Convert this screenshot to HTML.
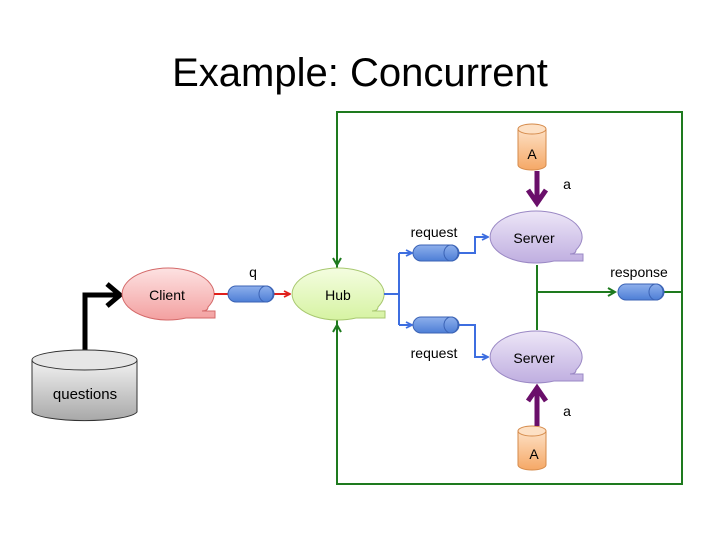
<!DOCTYPE html>
<html><head><meta charset="utf-8"><style>body{margin:0;background:#fff}svg{display:block}text{font-family:"Liberation Sans",sans-serif}</style></head><body>
<svg width="720" height="540" viewBox="0 0 720 540" xmlns="http://www.w3.org/2000/svg">
<defs>
<linearGradient id="gr" x1="0" y1="0" x2="0" y2="1"><stop offset="0" stop-color="#fde2e2"/><stop offset="1" stop-color="#f3a0a0"/></linearGradient>
<linearGradient id="gg" x1="0" y1="0" x2="0" y2="1"><stop offset="0" stop-color="#f4fde0"/><stop offset="1" stop-color="#d6f3a2"/></linearGradient>
<linearGradient id="gp" x1="0" y1="0" x2="0" y2="1"><stop offset="0" stop-color="#ede6f7"/><stop offset="1" stop-color="#bfaee0"/></linearGradient>
<linearGradient id="go" x1="0" y1="0" x2="0" y2="1"><stop offset="0" stop-color="#fde0c4"/><stop offset="1" stop-color="#f5a866"/></linearGradient>
<linearGradient id="gq" x1="0" y1="0" x2="0" y2="1"><stop offset="0" stop-color="#f2f2f2"/><stop offset="1" stop-color="#a8a8a8"/></linearGradient>
<linearGradient id="gb" x1="0" y1="0" x2="0" y2="1"><stop offset="0" stop-color="#8fb0ec"/><stop offset="1" stop-color="#4d7ed6"/></linearGradient>
<marker id="ar" markerWidth="8" markerHeight="8" refX="7" refY="4" orient="auto" markerUnits="userSpaceOnUse"><path d="M1,1 L7,4 L1,7" fill="none" stroke="#e0201c" stroke-width="1.8"/></marker>
<marker id="ab" markerWidth="8" markerHeight="8" refX="7" refY="4" orient="auto" markerUnits="userSpaceOnUse"><path d="M1,1 L7,4 L1,7" fill="none" stroke="#3d6ee0" stroke-width="1.8"/></marker>
<marker id="ag" markerWidth="10" markerHeight="10" refX="8" refY="5" orient="auto" markerUnits="userSpaceOnUse"><path d="M1,1 L8,5 L1,9" fill="none" stroke="#1e7a1e" stroke-width="2"/></marker>
</defs>
<text x="360" y="86" font-size="40" text-anchor="middle" fill="#000">Example: Concurrent</text>
<rect x="337" y="112" width="345" height="372" fill="none" stroke="#1e7a1e" stroke-width="2"/>
<line x1="337" y1="112" x2="337" y2="265" stroke="#1e7a1e" stroke-width="2" marker-end="url(#ag)"/>
<line x1="337" y1="484" x2="337" y2="325" stroke="#1e7a1e" stroke-width="2" marker-end="url(#ag)"/>
<!-- questions -->
<path d="M85,352 L85,295 L118,295" fill="none" stroke="#000" stroke-width="5"/>
<path d="M107,284 L120,295 L107,306" fill="none" stroke="#000" stroke-width="5"/>
<path d="M32,360 L32,412 A53,10 0 0 0 137,412 L137,360" fill="url(#gq)" stroke="#333" stroke-width="1"/>
<ellipse cx="84.5" cy="360" rx="52.5" ry="10" fill="#e6e6e6" stroke="#333"/>
<text x="85" y="399" font-size="15" text-anchor="middle">questions</text>
<!-- client cx=168 cy=294 -->
<path d="M208,307 Q208,311 202,311 L215,311 L215,318 L186,318 A46,26 0 1 1 208,307 Z" fill="url(#gr)" stroke="#d46a6a"/>
<text x="167" y="300" font-size="14" text-anchor="middle">Client</text>
<line x1="214" y1="294" x2="228" y2="294" stroke="#e0201c" stroke-width="2"/>
<line x1="272" y1="294" x2="290" y2="294" stroke="#e0201c" stroke-width="2" marker-end="url(#ar)"/>
<rect x="228" y="286" width="46" height="16" rx="8" fill="url(#gb)" stroke="#3b63b5"/>
<ellipse cx="266" cy="294" rx="7" ry="8" fill="url(#gb)" stroke="#3b63b5"/>
<text x="253" y="277" font-size="14" text-anchor="middle">q</text>
<!-- hub cx=338 cy=294 -->
<path d="M378,307 Q378,311 372,311 L385,311 L385,318 L356,318 A46,26 0 1 1 378,307 Z" fill="url(#gg)" stroke="#a8c870"/>
<text x="338" y="300" font-size="14" text-anchor="middle">Hub</text>
<path d="M384,294 L399,294 M399,253 L399,325" stroke="#3d6ee0" stroke-width="2" fill="none"/>
<line x1="399" y1="253" x2="412" y2="253" stroke="#3d6ee0" stroke-width="2" marker-end="url(#ab)"/>
<line x1="399" y1="325" x2="412" y2="325" stroke="#3d6ee0" stroke-width="2" marker-end="url(#ab)"/>
<path d="M459,253 L475,253 L475,237 L488,237" fill="none" stroke="#3d6ee0" stroke-width="2" marker-end="url(#ab)"/>
<path d="M459,325 L475,325 L475,357 L488,357" fill="none" stroke="#3d6ee0" stroke-width="2" marker-end="url(#ab)"/>
<rect x="413" y="245" width="46" height="16" rx="8" fill="url(#gb)" stroke="#3b63b5"/>
<ellipse cx="451" cy="253" rx="7" ry="8" fill="url(#gb)" stroke="#3b63b5"/>
<rect x="413" y="317" width="46" height="16" rx="8" fill="url(#gb)" stroke="#3b63b5"/>
<ellipse cx="451" cy="325" rx="7" ry="8" fill="url(#gb)" stroke="#3b63b5"/>
<text x="434" y="237" font-size="14" text-anchor="middle">request</text>
<text x="434" y="358" font-size="14" text-anchor="middle">request</text>
<path d="M537,265 L537,330 M537,292 L615,292" stroke="#1e7a1e" stroke-width="2" fill="none" marker-end="url(#ag)"/>
<line x1="664" y1="292" x2="682" y2="292" stroke="#1e7a1e" stroke-width="2"/>
<rect x="618" y="284" width="46" height="16" rx="8" fill="url(#gb)" stroke="#3b63b5"/>
<ellipse cx="656" cy="292" rx="7" ry="8" fill="url(#gb)" stroke="#3b63b5"/>
<text x="639" y="277" font-size="14" text-anchor="middle">response</text>
<!-- servers cx=536 cy=237 / 357 -->
<path d="M576,250 Q576,254 570,254 L583,254 L583,261 L554,261 A46,26 0 1 1 576,250 Z" fill="url(#gp)" stroke="#9a88c4"/>
<text x="534" y="243" font-size="14" text-anchor="middle">Server</text>
<path d="M576,370 Q576,374 570,374 L583,374 L583,381 L554,381 A46,26 0 1 1 576,370 Z" fill="url(#gp)" stroke="#9a88c4"/>
<text x="534" y="363" font-size="14" text-anchor="middle">Server</text>
<path d="M518,129 L518,165 A14,5 0 0 0 546,165 L546,129" fill="url(#go)" stroke="#d58a4a"/>
<ellipse cx="532" cy="129" rx="14" ry="5" fill="#fde0c4" stroke="#d58a4a"/>
<text x="532" y="159" font-size="14" text-anchor="middle">A</text>
<line x1="537" y1="171" x2="537" y2="200" stroke="#6a0f6a" stroke-width="5"/>
<path d="M528,190 L537,203 L546,190" fill="none" stroke="#6a0f6a" stroke-width="5"/>
<text x="567" y="189" font-size="14" text-anchor="middle">a</text>
<path d="M518,431 L518,465 A14,5 0 0 0 546,465 L546,431" fill="url(#go)" stroke="#d58a4a"/>
<ellipse cx="532" cy="431" rx="14" ry="5" fill="#fde0c4" stroke="#d58a4a"/>
<text x="534" y="459" font-size="14" text-anchor="middle">A</text>
<line x1="537" y1="426" x2="537" y2="391" stroke="#6a0f6a" stroke-width="5"/>
<path d="M528,401 L537,388 L546,401" fill="none" stroke="#6a0f6a" stroke-width="5"/>
<text x="567" y="416" font-size="14" text-anchor="middle">a</text>
</svg>
</body></html>
